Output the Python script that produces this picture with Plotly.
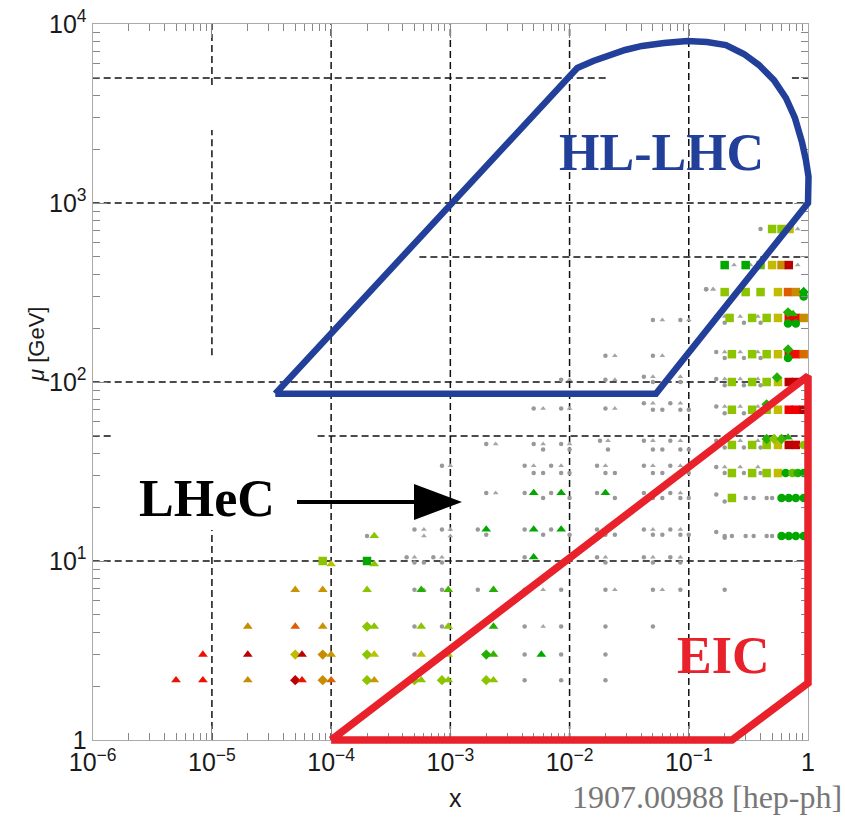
import plotly.graph_objects as go

# ---------------- data ----------------
X_TICKS = [1e-6, 1e-5, 1e-4, 1e-3, 1e-2, 1e-1, 1]
X_TICKTEXT = ["10<sup>\u22126</sup>", "10<sup>\u22125</sup>", "10<sup>\u22124</sup>",
              "10<sup>\u22123</sup>", "10<sup>\u22122</sup>", "10<sup>\u22121</sup>", "1"]
Y_TICKS = [1, 10, 100, 1000, 10000]
Y_TICKTEXT = ["1", "10<sup>1</sup>", "10<sup>2</sup>", "10<sup>3</sup>", "10<sup>4</sup>"]

# HL-LHC region outline (x, mu)
HL_LHC_X = [3.4e-5, 0.053, 1.0, 1.01, 0.96, 0.89, 0.777, 0.653, 0.518, 0.388, 0.29, 0.205,
            0.142, 0.097, 0.0621, 0.0406, 0.0292, 0.0215, 0.0158, 0.0116, 3.4e-5]
HL_LHC_MU = [86, 86, 1000, 1400, 1740, 2190, 2985, 3860, 4860, 5900, 6800, 7630,
             7930, 8040, 7830, 7540, 7160, 6710, 6210, 5680, 86]

# EIC region outline (x, mu)
EIC_X = [1e-4, 1.0, 1.0, 0.2305, 1e-4]
EIC_MU = [1.0, 108, 2.08, 1.0, 1.0]

# gray reference points (dots)
GRAY_DOT_X = [0.05, 0.085,
              0.02, 0.05,
              0.0085, 0.02, 0.042, 0.07, 0.05, 0.085,
              0.005, 0.0085, 0.02, 0.042, 0.07, 0.05, 0.06, 0.085, 0.1,
              0.002, 0.005, 0.0085, 0.018, 0.042, 0.07, 0.006, 0.01, 0.021, 0.05, 0.06, 0.085, 0.1,
              0.00085, 0.0042, 0.007, 0.017, 0.042, 0.07, 0.005, 0.006, 0.0085, 0.01, 0.02, 0.024, 0.05, 0.06, 0.085, 0.1,
              0.002, 0.0042, 0.007, 0.017, 0.042, 0.07, 0.006, 0.01, 0.024, 0.05, 0.06, 0.085, 0.1,
              0.0005, 0.00085, 0.0017, 0.0042, 0.007, 0.017, 0.042, 0.07, 0.002, 0.006, 0.01, 0.02, 0.024, 0.05, 0.06, 0.085, 0.1,
              0.0002,
              0.00043, 0.00072, 0.0042, 0.017, 0.042, 0.07, 0.0005, 0.0006, 0.00085, 0.0085, 0.02, 0.05, 0.085,
              0.0005, 0.00085, 0.0017, 0.0042, 0.0085, 0.02, 0.05, 0.085, 0.2,
              0.0005, 0.00085, 0.0042, 0.0085, 0.02, 0.05,
              0.0005, 0.0042, 0.0085, 0.02,
              0.0042, 0.0085, 0.02,
              0.17, 0.17, 0.17, 0.17, 0.17, 0.17, 0.17, 0.17,
              0.2, 0.2, 0.2, 0.2, 0.2, 0.2, 0.2, 0.2,
              0.29, 0.29, 0.29, 0.29, 0.29, 0.29, 0.4, 0.4, 0.4, 0.4, 0.4, 0.4,
              0.3, 0.35, 0.45, 0.5, 0.2, 0.23, 0.3, 0.35, 0.45, 0.5,
              0.4, 0.14, 0.14]
GRAY_DOT_MU = [222, 222,
               140, 140,
               103, 103, 107, 107, 100, 100,
               71, 71, 71, 76, 76, 70, 70, 70, 70,
               45, 45, 45, 47, 47, 47, 42, 42, 42, 42, 42, 42, 42,
               34, 34, 34, 34, 34, 34, 31, 31, 31, 31, 31, 31, 31, 31, 31, 31,
               24, 24, 24, 24, 24, 24, 22.5, 22.5, 22.5, 22.5, 22.5, 22.5, 22.5,
               15, 15, 15, 15, 15, 15, 15, 15, 14, 14, 14, 14, 14, 14, 14, 14, 14,
               13.8,
               10.5, 10.5, 10.5, 10.5, 10.5, 10.5, 9.8, 9.8, 9.8, 9.8, 9.8, 9.8, 9.8,
               6.9, 6.9, 6.9, 6.9, 6.9, 6.9, 6.9, 6.9, 6.9,
               4.3, 4.3, 4.3, 4.3, 4.3, 4.3,
               3.0, 3.0, 3.0, 3.0,
               2.16, 2.16, 2.16,
               232, 147, 104, 73, 47, 33.5, 23.5, 14.5,
               214, 136, 96, 67, 43, 31, 21.5, 13.5,
               214, 136, 96, 67, 43, 31, 214, 136, 96, 67, 43, 31,
               22.5, 22.5, 22.5, 22.5, 13.8, 13.8, 13.8, 13.8, 13.8, 13.8,
               716, 330, 330]

# gray reference points (small triangles)
GRAY_TRI_X = [0.06, 0.1, 0.024, 0.06, 0.01, 0.024, 0.05, 0.085,
              0.006, 0.01, 0.024, 0.05, 0.085,
              0.0024, 0.006, 0.01, 0.021, 0.05, 0.085,
              0.001, 0.005, 0.0085, 0.02, 0.05, 0.085,
              0.0024, 0.05, 0.085,
              0.0006, 0.001, 0.02, 0.05, 0.085,
              0.0005, 0.00085, 0.02, 0.05, 0.085,
              0.0006, 0.006, 0.024, 0.06, 0.006, 0.0006, 0.001,
              0.2, 0.2, 0.2, 0.2, 0.2, 0.2,
              0.27, 0.27, 0.27, 0.27, 0.27, 0.27,
              0.38, 0.38, 0.38, 0.38, 0.38, 0.38,
              0.24, 0.33, 0.82, 0.82, 0.16, 0.16]
GRAY_TRI_MU = [222, 222, 140, 140, 103, 103, 107, 107,
               71, 71, 71, 76, 76,
               45, 45, 45, 47, 47, 47,
               34, 34, 34, 34, 34, 34,
               24, 24, 24,
               15, 15, 15, 15, 15,
               10.5, 10.5, 10.5, 10.5, 10.5,
               6.9, 6.9, 6.9, 6.9, 4.3, 13.8, 13.8,
               232, 147, 104, 73, 47, 33.5,
               232, 147, 104, 73, 47, 33.5,
               232, 147, 104, 73, 47, 33.5,
               450, 450, 450, 716, 330, 330]

# coloured points: c = quality value (0 = red ... 1 = green)
TRI_X = [5.0e-6, 8.4e-6, 2.0e-5, 5.7e-5, 1.0e-4, 2.3e-4, 5.7e-4, 9.6e-4, 2.3e-3,
         8.4e-6, 2.0e-5, 5.7e-5, 1.0e-4, 2.3e-4, 5.7e-4, 9.6e-4, 2.3e-3, 5.8e-3,
         2.0e-5, 5.0e-5, 8.5e-5, 2.3e-4, 5.7e-4, 9.6e-4, 2.3e-3,
         5.0e-5, 8.5e-5, 2.0e-4, 5.7e-4, 9.6e-4, 2.3e-3,
         1.0e-4, 2.3e-4, 2.3e-4,
         2.0e-3, 5.0e-3, 8.5e-3, 5.0e-3, 8.5e-3, 2.0e-2, 5.0e-3,
         0.68, 0.75]
TRI_MU = [2.16, 2.16, 2.16, 2.16, 2.16, 2.16, 2.16, 2.16, 2.16,
          3.0, 3.0, 3.0, 3.0, 3.0, 3.0, 3.0, 3.0, 3.0,
          4.3, 4.3, 4.3, 4.3, 4.3, 4.3, 4.3,
          6.9, 6.9, 6.9, 6.9, 6.9, 6.9,
          9.6, 9.6, 13.8,
          15, 15, 15, 24, 24, 24, 10.5,
          49, 240]
TRI_C = [0.15, 0.15, 0.45, 0.15, 0.32, 0.5, 0.8, 0.8, 0.8,
         0.15, 0.03, 0.03, 0.5, 0.7, 0.7, 0.72, 0.92, 1.0,
         0.45, 0.3, 0.48, 0.8, 0.8, 0.8, 0.95,
         0.48, 0.48, 0.8, 0.95, 0.9, 0.95,
         0.7, 0.8, 0.8,
         1.0, 1.0, 1.0, 1.0, 1.0, 1.0, 1.0,
         0.95, 0.95]

DIA_X = [5.0e-5, 8.5e-5, 2.0e-4, 5.0e-4, 8.5e-4, 2.0e-3,
         5.0e-5, 8.5e-5, 2.0e-4, 2.0e-3, 2.0e-4,
         0.92, 0.68, 0.68, 0.55, 0.45, 0.45, 0.52, 0.6]
DIA_MU = [2.16, 2.16, 2.16, 2.16, 2.16, 2.16,
          3.0, 3.0, 3.0, 3.0, 4.3,
          318, 245, 152, 106, 75, 48, 48, 48]
DIA_C = [0.03, 0.45, 0.8, 0.8, 0.8, 0.8,
         0.65, 0.45, 0.8, 0.95, 0.8,
         1.0, 0.95, 0.95, 0.95, 0.95, 0.95, 0.8, 0.9]

SQ_X = [8.5e-5, 2.0e-4,
        0.5, 0.6, 0.7,
        0.2, 0.3, 0.4, 0.5, 0.6, 0.69,
        0.2, 0.3, 0.4, 0.56, 0.68, 0.79,
        0.22, 0.34, 0.45, 0.56, 0.69, 0.79, 0.92,
        0.23, 0.34, 0.45, 0.56, 0.69, 0.79, 0.92,
        0.23, 0.34, 0.45, 0.56, 0.69, 0.79,
        0.23, 0.34, 0.45, 0.56, 0.69, 0.79, 0.92,
        0.23, 0.34, 0.45, 0.56, 0.69, 0.79,
        0.23, 0.34, 0.45, 0.56,
        0.23]
SQ_MU = [10, 10,
         716, 716, 716,
         450, 450, 450, 450, 450, 450,
         318, 318, 318, 318, 318, 318,
         228, 228, 228, 228, 228, 228, 228,
         143, 143, 143, 143, 143, 143, 143,
         100, 100, 100, 100, 100, 100,
         70, 70, 70, 70, 70, 70, 70,
         44.5, 44.5, 44.5, 44.5, 44.5, 44.5,
         31, 31, 31, 31,
         22.5]
SQ_C = [0.8, 1.0,
        0.8, 0.8, 0.65,
        1.0, 1.0, 0.85, 0.65, 0.45, 0.03,
        0.8, 0.8, 0.8, 0.65, 0.3, 0.45,
        0.8, 0.8, 0.8, 0.65, 0.12, 0.12, 0.45,
        0.8, 0.8, 0.8, 0.65, 0.12, 0.15, 0.35,
        0.8, 0.8, 0.8, 0.7, 0.03, 0.05,
        0.8, 0.8, 0.8, 0.65, 0.12, 0.12, 0.03,
        0.8, 0.8, 0.8, 0.65, 0.03, 0.05,
        0.8, 0.8, 0.8, 0.65,
        0.8]

CIRC_X = [0.92, 0.65, 0.74, 0.82, 0.92,
          0.6, 0.69, 0.79, 0.92,
          0.6, 0.69, 0.79, 0.92,
          0.68, 0.79, 0.68, 0.92]
CIRC_MU = [44.5, 31, 31, 31, 31,
           22.5, 22.5, 22.5, 22.5,
           13.8, 13.8, 13.8, 13.8,
           212, 212, 136, 300]
CIRC_C = [0.8, 1.0, 0.85, 0.95, 1.0,
          1.0, 1.0, 1.0, 1.0,
          1.0, 1.0, 1.0, 1.0,
          1.0, 1.0, 1.0, 1.0]

# dashed reference lines: (x0, x1, mu) horizontal and (x, mu0, mu1) vertical
HGRID = [(1e-6, 0.0215, 5000), (0.733, 1, 5000), (1e-6, 1, 1000), (5.5e-4, 1, 500),
         (1e-6, 1, 100), (1e-6, 1.48e-6, 50), (7.7e-5, 1, 50), (1e-6, 1, 10)]
VGRID = [(1e-5, 4560, 1e4), (1e-5, 141, 2560), (1e-5, 1, 14.9),
         (1e-4, 1, 1e4), (1e-3, 1, 1e4), (1e-2, 1, 1e4), (1e-1, 1, 1e4)]

# ---------------- layout geometry ----------------
W, H = 845, 817
ML, MR, MT, MB = 60, 10, 10, 50
PW, PH = W - ML - MR, H - MT - MB
FX0, FX1 = 92.7, 808.0     # frame left/right px
FY0, FY1 = 740.0, 24.0     # frame bottom/top px


def pxx(px):
    return (px - ML) / PW


def pyy(py):
    return (H - MB - py) / PH


XR, YR = [-6, 0], [0, 4]
xdom = [pxx(FX0), pxx(FX1)]
ydom = [pyy(FY0), pyy(FY1)]


def ext(r, d):
    s = (r[1] - r[0]) / (d[1] - d[0])
    return [r[0] - d[0] * s, r[1] + (1 - d[1]) * s]


minor_x = [m * 10.0 ** k for k in range(-6, 0) for m in range(2, 10)]
minor_y = [m * 10.0 ** k for k in range(0, 4) for m in range(2, 10)]

CSCALE = [[0.0, '#a80000'], [0.12, '#f00000'], [0.3, '#e05a00'], [0.45, '#c88c00'],
          [0.62, '#c6b800'], [0.72, '#b4c400'], [0.8, '#8cc400'], [0.9, '#44b600'], [1.0, '#00a800']]

fig = go.Figure()

# gridlines
gx, gy = [], []
for x0, x1, m in HGRID:
    gx += [x0, x1, None]
    gy += [m, m, None]
for x, m0, m1 in VGRID:
    gx += [x, x, None]
    gy += [m0, m1, None]
fig.add_trace(go.Scatter(x=gx, y=gy, mode='lines', line=dict(color='#111', width=1.5, dash='7px,4px'),
                         hoverinfo='skip', showlegend=False, xaxis='x', yaxis='y'))

fig.add_trace(go.Scatter(x=GRAY_DOT_X, y=GRAY_DOT_MU, mode='markers',
                         marker=dict(symbol='circle', size=4.5, color='#999'),
                         showlegend=False, xaxis='x', yaxis='y'))
fig.add_trace(go.Scatter(x=GRAY_TRI_X, y=GRAY_TRI_MU, mode='markers',
                         marker=dict(symbol='triangle-up', size=5, color='#a5a5a5'),
                         showlegend=False, xaxis='x', yaxis='y'))

for xs, ys, cs, sym, sz in [(SQ_X, SQ_MU, SQ_C, 'square', 8.5),
                            (CIRC_X, CIRC_MU, CIRC_C, 'circle', 8.5),
                            (DIA_X, DIA_MU, DIA_C, 'diamond', 8),
                            (TRI_X, TRI_MU, TRI_C, 'triangle-up', 8.5)]:
    fig.add_trace(go.Scatter(x=xs, y=ys, mode='markers',
                             marker=dict(symbol=sym, size=sz, color=cs, colorscale=CSCALE,
                                         cmin=0, cmax=1, line=dict(width=0)),
                             showlegend=False, xaxis='x', yaxis='y'))

# region outlines on an unclipped overlay subplot
fig.add_trace(go.Scatter(x=HL_LHC_X, y=HL_LHC_MU, mode='lines',
                         line=dict(color='#22409a', width=6.5), showlegend=False,
                         xaxis='x2', yaxis='y2'))
fig.add_trace(go.Scatter(x=EIC_X, y=EIC_MU, mode='lines',
                         line=dict(color='#e8212a', width=7.5), showlegend=False,
                         xaxis='x2', yaxis='y2'))

axis_common = dict(type='log', ticks='inside', ticklen=14, tickwidth=1.2, tickcolor='#888',
                   showline=True, linecolor='#aaa', linewidth=1.2, mirror='ticks',
                   showgrid=False, zeroline=False, automargin=False,
                   tickfont=dict(family='Liberation Sans, Arial, sans-serif', size=25, color='#1a1a1a'))

fig.update_layout(
    width=W, height=H, template='none',
    margin=dict(l=ML, r=MR, t=MT, b=MB),
    paper_bgcolor='white', plot_bgcolor='rgba(0,0,0,0)',
    xaxis=dict(range=XR, domain=xdom, anchor='y', tickmode='array', tickvals=X_TICKS,
               ticktext=X_TICKTEXT,
               minor=dict(tickmode='array', tickvals=minor_x, ticks='inside', ticklen=7,
                          tickwidth=1.2, tickcolor='#888', showgrid=False),
               **axis_common),
    yaxis=dict(range=YR, domain=ydom, anchor='x', tickmode='array', tickvals=Y_TICKS,
               ticktext=Y_TICKTEXT,
               minor=dict(tickmode='array', tickvals=minor_y, ticks='inside', ticklen=7,
                          tickwidth=1.2, tickcolor='#888', showgrid=False),
               **axis_common),
    xaxis2=dict(type='log', range=ext(XR, xdom), domain=[0, 1], anchor='y2', visible=False),
    yaxis2=dict(type='log', range=ext(YR, ydom), domain=[0, 1], anchor='x2', visible=False),
)

serif = 'Liberation Serif, Times New Roman, serif'
sans = 'Liberation Sans, Arial, sans-serif'
ann = [
    dict(text='<b>HL-LHC</b>', x=pxx(661), y=pyy(153), font=dict(family=serif, size=52, color='#22409a')),
    dict(text='<b>LHeC</b>', x=pxx(207), y=pyy(498), font=dict(family=serif, size=52, color='black')),
    dict(text='<b>EIC</b>', x=pxx(723), y=pyy(655), font=dict(family=serif, size=52, color='#e8212a')),
    dict(text='1907.00988 [hep-ph]', x=pxx(843), y=pyy(797), xanchor='right',
         font=dict(family=serif, size=32, color='#777')),
    dict(text='x', x=pxx(455), y=pyy(798), font=dict(family=sans, size=25, color='#1a1a1a')),
    dict(text='<i>\u03bc</i> [GeV]', x=pxx(36), y=pyy(345), textangle=-90,
         font=dict(family=sans, size=22, color='#1a1a1a')),
]
for a in ann:
    a.setdefault('xanchor', 'center')
    fig.add_annotation(xref='paper', yref='paper', yanchor='middle', showarrow=False,
                       borderpad=0, **a)

# LHeC arrow
ax0, ax1, ahx, ay, ahh = 297, 414, 462, 502, 18
fig.add_shape(type='line', xref='paper', yref='paper', x0=pxx(ax0), x1=pxx(ax1 + 2), y0=pyy(ay), y1=pyy(ay),
              line=dict(color='black', width=4))
fig.add_shape(type='path', xref='paper', yref='paper',
              path=f'M {pxx(ax1)},{pyy(ay - ahh)} L {pxx(ahx)},{pyy(ay)} L {pxx(ax1)},{pyy(ay + ahh)} Z',
              fillcolor='black', line=dict(color='black', width=0))

fig.write_html('out.html')
